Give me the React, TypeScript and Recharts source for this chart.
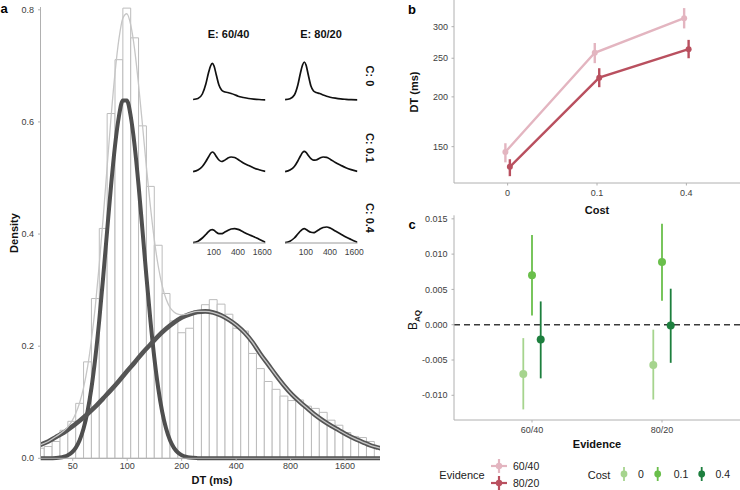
import React from "react";
import {
  ComposedChart,
  LineChart,
  Line,
  Bar,
  Scatter,
  XAxis,
  YAxis,
  ErrorBar,
  ReferenceLine,
} from "recharts";

const FONT = '"Liberation Sans", Arial, Helvetica, sans-serif';
const TICK = "#3d3d3d";
const AXIS = "#b0b0b0";

// ---- panel a: DT histogram on a log axis (x values are ln(ms)) ----
const dtTicks = [50, 100, 200, 400, 800, 1600];

const binLn = [
  3.5, 3.6, 3.7, 3.8, 3.9, 4.0, 4.1, 4.2, 4.3, 4.4, 4.5, 4.6, 4.7, 4.8, 4.9,
  5.0, 5.1, 5.2, 5.3, 5.4, 5.5, 5.6, 5.7, 5.8, 5.9, 6.0, 6.1, 6.2, 6.3, 6.4,
  6.5, 6.6, 6.7, 6.8, 6.9, 7.0, 7.1, 7.2, 7.3, 7.4, 7.5, 7.6, 7.7,
];
const binDensity = [
  0.018, 0.021, 0.03, 0.05, 0.066, 0.098, 0.172, 0.285, 0.41, 0.615, 0.711,
  0.803, 0.75, 0.593, 0.485, 0.38, 0.294, 0.245, 0.224, 0.232, 0.263, 0.274,
  0.283, 0.275, 0.257, 0.232, 0.227, 0.187, 0.16, 0.137, 0.123, 0.111, 0.103,
  0.104, 0.093, 0.089, 0.082, 0.068, 0.059, 0.046, 0.039, 0.037, 0.03,
];

// slow component
const wideLn = [
  3.5, 3.6, 3.7, 3.8, 3.9, 4.0, 4.1, 4.2, 4.3, 4.4, 4.5, 4.6, 4.7, 4.8, 4.9,
  5.0, 5.1, 5.2, 5.3, 5.4, 5.5, 5.6, 5.7, 5.8, 5.9, 6.0, 6.1, 6.2, 6.3, 6.4,
  6.5, 6.6, 6.7, 6.8, 6.9, 7.0, 7.1, 7.2, 7.3, 7.4, 7.5, 7.6, 7.7, 7.8, 7.9,
];
const wideDensity = [
  0.024, 0.03, 0.038, 0.046, 0.056, 0.067, 0.079, 0.092, 0.107, 0.122, 0.138,
  0.155, 0.171, 0.188, 0.203, 0.218, 0.231, 0.242, 0.251, 0.257, 0.261, 0.262,
  0.26, 0.255, 0.247, 0.237, 0.224, 0.207, 0.186, 0.167, 0.148, 0.13, 0.114,
  0.101, 0.089, 0.077, 0.067, 0.058, 0.05, 0.042, 0.035, 0.029, 0.023, 0.019,
  0.015,
];

// fast component
const narrowLn = [
  3.5, 3.6, 3.7, 3.75, 3.8, 3.85, 3.9, 3.95, 4.0, 4.05, 4.1, 4.15, 4.2, 4.25,
  4.3, 4.35, 4.4, 4.45, 4.5, 4.55, 4.6, 4.65, 4.7, 4.75, 4.8, 4.85, 4.9, 4.95,
  5.0, 5.05, 5.1, 5.15, 5.2, 5.25, 5.3, 5.35, 5.4, 5.5, 5.6, 7.9,
];
const narrowDensity = [
  0, 0.0001, 0.0006, 0.0013, 0.0028, 0.0055, 0.0104, 0.0187, 0.0322, 0.053,
  0.0833, 0.1252, 0.1798, 0.2469, 0.3239, 0.4061, 0.4866, 0.5573, 0.6101,
  0.6384, 0.6384, 0.6101, 0.5573, 0.4866, 0.4061, 0.3239, 0.2469, 0.1798,
  0.1252, 0.0833, 0.053, 0.0322, 0.0187, 0.0104, 0.0055, 0.0028, 0.0013,
  0.0003, 0, 0,
];

// overall density
const mixLn = [
  3.5, 3.6, 3.7, 3.8, 3.85, 3.9, 3.95, 4.0, 4.05, 4.1, 4.15, 4.2, 4.25, 4.3,
  4.35, 4.4, 4.45, 4.5, 4.55, 4.6, 4.65, 4.7, 4.75, 4.8, 4.85, 4.9, 4.95, 5.0,
  5.05, 5.1, 5.15, 5.2, 5.25, 5.3, 5.35, 5.4, 5.5, 5.6, 5.7, 5.8, 5.9, 6.0,
  6.1, 6.2, 6.3, 6.4, 6.5, 6.6, 6.7, 6.8, 6.9, 7.0, 7.1, 7.2, 7.3, 7.4, 7.5,
  7.6, 7.7, 7.8, 7.9,
];
const mixDensity = [
  0.024, 0.03, 0.039, 0.049, 0.056, 0.066, 0.08, 0.099, 0.126, 0.162, 0.211,
  0.272, 0.346, 0.43, 0.52, 0.609, 0.687, 0.748, 0.785, 0.793, 0.773, 0.729,
  0.666, 0.594, 0.519, 0.45, 0.39, 0.343, 0.308, 0.284, 0.269, 0.261, 0.257,
  0.256, 0.257, 0.259, 0.262, 0.262, 0.26, 0.255, 0.247, 0.237, 0.224, 0.207,
  0.186, 0.167, 0.148, 0.13, 0.114, 0.101, 0.089, 0.077, 0.067, 0.058, 0.05,
  0.042, 0.035, 0.029, 0.023, 0.019, 0.015,
];

// ---- inset: densities per evidence x cost (relative units) ----
const insetTicks = [100, 400, 1600];
const insetLn = [
  3.42, 3.7, 3.95, 4.15, 4.3, 4.42, 4.52, 4.62, 4.75, 4.9, 5.05, 5.2, 5.4, 5.6,
  5.8, 6.0, 6.3, 6.6, 6.9, 7.2, 7.56,
];
const evidenceLabels = ["60/40", "80/20"];
const costLabels = ["0", "0.1", "0.4"];
const insetC0E60 = [0.5, 1.5, 6, 16, 27, 34, 36.6, 34, 25, 15, 10, 8.3, 7.5, 6.5, 5.3, 3.8, 2.5, 1.5, 0.9, 0.5, 0.2];
const insetC0E80 = [0.3, 1.3, 5, 15, 27, 35, 38, 35, 25, 14, 9, 7.5, 6.5, 5, 3.8, 2.8, 1.8, 1.1, 0.7, 0.4, 0.2];
const insetC1E60 = [0.3, 2, 5.5, 10.5, 15, 18.5, 20, 19, 15.5, 12, 10.5, 11.5, 13.8, 15, 14.5, 12.5, 9, 6.5, 4, 2.3, 0.7];
const insetC1E80 = [0.3, 2, 5.5, 11, 16, 19.5, 20.7, 19.6, 16.5, 13.3, 11.8, 12, 13.8, 15, 14.6, 12.8, 9.5, 6.8, 4.3, 2.4, 0.7];
const insetC4E60 = [0.3, 1.8, 5, 8.5, 11.3, 13, 13.4, 12.7, 10.8, 9.4, 9.3, 10.5, 12.5, 14, 14.4, 13.6, 11, 8.5, 6.3, 3.8, 0.8];
const insetC4E80 = [0.3, 1.8, 5, 9, 12, 13.8, 14.3, 13.6, 12, 10.7, 10.3, 11.5, 13.7, 15.5, 16, 15, 12, 9, 6, 3.5, 0.8];
const insetRows = [
  [insetC0E60, insetC0E80],
  [insetC1E60, insetC1E80],
  [insetC4E60, insetC4E80],
];

// ---- panel b: mean DT by cost ----
const dtTicksB = [150, 200, 250, 300];
const dt6040 = [145.5, 258, 315];
const dt6040Lo = [137, 243, 297];
const dt6040Hi = [153, 273, 334];
const dt8020 = [133.5, 223.5, 263.5];
const dt8020Lo = [126.5, 211.5, 250];
const dt8020Hi = [139.5, 236, 278];
const EVIDENCE_COLORS = ["#e3b5c0", "#b9505f"];

// ---- panel c: B_AQ by evidence and cost ----
const baqTicks = [-0.01, -0.005, 0, 0.005, 0.01, 0.015];
const baqCost0 = [-0.007, -0.0057];
const baqCost0Lo = [-0.012, -0.0106];
const baqCost0Hi = [-0.0019, -0.0007];
const baqCost1 = [0.007, 0.0089];
const baqCost1Lo = [0.0013, 0.0034];
const baqCost1Hi = [0.0127, 0.0143];
const baqCost4 = [-0.0021, -0.0001];
const baqCost4Lo = [-0.0076, -0.0054];
const baqCost4Hi = [0.0033, 0.0051];
const COST_COLORS = ["#a6d48e", "#6abf4b", "#1d7f3e"];

const pairs = (xs: number[], ys: number[]) => xs.map((x, i) => ({ x, y: ys[i] }));

const histData = pairs(binLn, binDensity);
const wideData = pairs(wideLn, wideDensity);
const narrowData = pairs(narrowLn, narrowDensity);
const mixData = pairs(mixLn, mixDensity);

const LN_MIN = 3.502;
const LN_MAX = 7.822;
const PLOT_A_W = 339.5;
// bin width is 0.1 on the ln axis; a hair less than the band so recharts keeps it whole
const binPx = (PLOT_A_W / (LN_MAX - LN_MIN)) * 0.1 - 0.02;

const DODGE_B = 0.025;
const evidenceB = [
  { mean: dt6040, lo: dt6040Lo, hi: dt6040Hi },
  { mean: dt8020, lo: dt8020Lo, hi: dt8020Hi },
].map((s, e) =>
  s.mean.map((m, i) => ({
    x: i + 1 + (e === 0 ? -DODGE_B : DODGE_B),
    y: m,
    err: [m - s.lo[i], s.hi[i] - m],
  }))
);

const DODGE_C = 0.067;
const costC = [
  { mean: baqCost0, lo: baqCost0Lo, hi: baqCost0Hi },
  { mean: baqCost1, lo: baqCost1Lo, hi: baqCost1Hi },
  { mean: baqCost4, lo: baqCost4Lo, hi: baqCost4Hi },
].map((s, c) =>
  s.mean.map((m, i) => ({
    x: i + 1 + (c - 1) * DODGE_C,
    y: m,
    err: [m - s.lo[i], s.hi[i] - m],
  }))
);

const tickStyle = { fontSize: 9, fill: TICK, fontFamily: FONT };

function InsetPanel({ values, left, top, showAxis }: any) {
  const data = insetLn.map((x, i) => ({ x, y: values[i] }));
  return (
    <div style={{ position: "absolute", left, top }}>
      <LineChart
        width={86.5}
        height={showAxis ? 58 : 44}
        data={data}
        margin={{ top: 2, right: 13, bottom: showAxis ? 0 : 2, left: 1 }}
      >
        <XAxis
          dataKey="x"
          type="number"
          domain={[3.415, 7.567]}
          allowDataOverflow
          hide={!showAxis}
          height={16}
          ticks={insetTicks.map(Math.log)}
          tickFormatter={(v: number) => String(Math.round(Math.exp(v)))}
          tick={{ fontSize: 8.5, fill: TICK, fontFamily: FONT }}
          tickLine={false}
          tickSize={4}
          tickMargin={2}
          axisLine={{ stroke: "#9a9a9a" }}
          interval={0}
        />
        <YAxis hide domain={[0, 40]} />
        <Line
          type="monotone"
          dataKey="y"
          stroke="#111"
          strokeWidth={1.7}
          dot={false}
          activeDot={false}
          isAnimationActive={false}
        />
      </LineChart>
    </div>
  );
}

function PanelA() {
  const curve = {
    xAxisId: "curve",
    dataKey: "y",
    type: "monotone" as const,
    dot: false,
    activeDot: false,
    isAnimationActive: false,
  };
  return (
    <div style={{ position: "absolute", left: 0, top: 0 }}>
      <ComposedChart
        width={390}
        height={490}
        data={histData}
        margin={{ top: 7, right: 10, bottom: 0, left: 0 }}
        barCategoryGap={0}
        barGap={0}
      >
        <XAxis
          xAxisId="bins"
          dataKey="x"
          type="number"
          domain={[LN_MIN, LN_MAX]}
          allowDataOverflow
          ticks={dtTicks.map(Math.log)}
          tickFormatter={(v: number) => String(Math.round(Math.exp(v)))}
          interval={0}
          height={31.7}
          tick={tickStyle}
          tickSize={2.5}
          tickMargin={1.5}
          tickLine={{ stroke: AXIS }}
          axisLine={{ stroke: AXIS }}
        />
        <XAxis
          xAxisId="curve"
          dataKey="x"
          type="number"
          domain={[LN_MIN, LN_MAX]}
          allowDataOverflow
          hide
        />
        <YAxis
          type="number"
          domain={[0, 0.805]}
          ticks={[0, 0.2, 0.4, 0.6, 0.8]}
          tickFormatter={(v: number) => v.toFixed(1)}
          width={40.5}
          tick={tickStyle}
          tickSize={2.5}
          tickMargin={4}
          tickLine={{ stroke: AXIS }}
          axisLine={{ stroke: AXIS }}
        />
        <Bar
          xAxisId="bins"
          dataKey="y"
          fill="#ffffff"
          stroke="#bcbcbc"
          strokeWidth={1}
          barSize={binPx}
          isAnimationActive={false}
        />
        <Line {...curve} data={narrowData} stroke="#4f4f4f" strokeWidth={4} />
        <Line {...curve} data={wideData} stroke="#555555" strokeWidth={4.6} />
        <Line {...curve} data={mixData} stroke="#c6c6c6" strokeWidth={1.3} />
      </ComposedChart>
    </div>
  );
}

function PanelB() {
  return (
    <div style={{ position: "absolute", left: 400, top: 0 }}>
      <LineChart width={340} height={215} margin={{ top: 0, right: 0, bottom: 0, left: 0 }}>
        <XAxis
          dataKey="x"
          type="number"
          domain={[0.4, 3.6]}
          ticks={[1, 2, 3]}
          tickFormatter={(v: number) => costLabels[Math.round(v) - 1]}
          interval={0}
          height={32}
          tick={tickStyle}
          tickSize={2.5}
          tickMargin={4}
          tickLine={{ stroke: AXIS }}
          axisLine={{ stroke: AXIS }}
        />
        <YAxis
          type="number"
          scale="log"
          domain={[121.6, 350]}
          allowDataOverflow
          ticks={dtTicksB}
          interval={0}
          width={54}
          tick={tickStyle}
          tickSize={2.5}
          tickMargin={3.5}
          tickLine={{ stroke: AXIS }}
          axisLine={{ stroke: AXIS }}
        />
        {evidenceB.map((data, e) => (
          <Line
            key={evidenceLabels[e]}
            data={data}
            dataKey="y"
            stroke={EVIDENCE_COLORS[e]}
            strokeWidth={2.4}
            dot={{ r: 3, fill: EVIDENCE_COLORS[e], stroke: EVIDENCE_COLORS[e], strokeWidth: 0 }}
            activeDot={false}
            isAnimationActive={false}
          >
            <ErrorBar dataKey="err" direction="y" width={0} stroke={EVIDENCE_COLORS[e]} strokeWidth={2.4} />
          </Line>
        ))}
      </LineChart>
    </div>
  );
}

function PanelC() {
  return (
    <div style={{ position: "absolute", left: 400, top: 205 }}>
      <ComposedChart width={340} height={240} margin={{ top: 10.3, right: 0, bottom: 0, left: 0 }}>
        <XAxis
          dataKey="x"
          type="number"
          domain={[0.4, 2.6]}
          ticks={[1, 2]}
          tickFormatter={(v: number) => evidenceLabels[Math.round(v) - 1]}
          interval={0}
          height={25}
          tick={tickStyle}
          tickSize={2.5}
          tickMargin={4}
          tickLine={{ stroke: AXIS }}
          axisLine={{ stroke: AXIS }}
        />
        <YAxis
          dataKey="y"
          type="number"
          domain={[-0.0135, 0.0155]}
          allowDataOverflow
          ticks={baqTicks}
          interval={0}
          tickFormatter={(v: number) => v.toFixed(3)}
          width={54}
          tick={tickStyle}
          tickSize={2.5}
          tickMargin={4}
          tickLine={{ stroke: AXIS }}
          axisLine={{ stroke: AXIS }}
        />
        <ReferenceLine y={0} stroke="#3a3a3a" strokeWidth={1.4} strokeDasharray="6 4" />
        {costC.map((data, c) => (
          <Scatter
            key={costLabels[c]}
            data={data}
            fill={COST_COLORS[c]}
            isAnimationActive={false}
            shape={(p: any) => <circle cx={p.cx} cy={p.cy} r={4} fill={COST_COLORS[c]} />}
          >
            <ErrorBar dataKey="err" direction="y" width={0} stroke={COST_COLORS[c]} strokeWidth={1.8} />
          </Scatter>
        ))}
      </ComposedChart>
    </div>
  );
}

function Overlay() {
  const title = { fontSize: 11, fontWeight: 700, fill: "#111" } as const;
  const strip = { fontSize: 11, fontWeight: 700, fill: "#111" } as const;
  const legendText = { fontSize: 11, fill: "#222" } as const;
  const costGlyphX = [624, 657.7, 701.7];
  const costTextX = [641, 681, 722.7];
  return (
    <svg
      width={740}
      height={490}
      style={{ position: "absolute", left: 0, top: 0, pointerEvents: "none" }}
      fontFamily={FONT}
    >
      <text x={0.5} y={13} fontSize={13} fontWeight={700}>a</text>
      <text x={408} y={13.5} fontSize={13} fontWeight={700}>b</text>
      <text x={408.5} y={228.5} fontSize={13} fontWeight={700}>c</text>

      <text transform="translate(18,233) rotate(-90)" textAnchor="middle" {...title}>Density</text>
      <text x={212} y={484} textAnchor="middle" {...title}>DT (ms)</text>

      <text x={228.5} y={38} textAnchor="middle" {...strip}>E: {evidenceLabels[0]}</text>
      <text x={321} y={38} textAnchor="middle" {...strip}>E: {evidenceLabels[1]}</text>
      <text transform="translate(366,76) rotate(90)" textAnchor="middle" {...strip}>C: {costLabels[0]}</text>
      <text transform="translate(366,148) rotate(90)" textAnchor="middle" {...strip}>C: {costLabels[1]}</text>
      <text transform="translate(366,218) rotate(90)" textAnchor="middle" {...strip}>C: {costLabels[2]}</text>

      <text transform="translate(418,92) rotate(-90)" textAnchor="middle" {...title}>DT (ms)</text>
      <text x={597} y={214} textAnchor="middle" {...title}>Cost</text>

      <text transform="translate(417,320) rotate(-90)" textAnchor="middle" fontSize={12} fill="#111">
        B<tspan fontSize={8} fontWeight={700} dy={3}>AQ</tspan>
      </text>
      <text x={597} y={448} textAnchor="middle" {...title}>Evidence</text>

      {/* legends */}
      <text x={462} y={479} textAnchor="middle" {...legendText}>Evidence</text>
      {evidenceLabels.map((lab, e) => {
        const y = e === 0 ? 466 : 483;
        return (
          <g key={lab}>
            <line x1={491} x2={507} y1={y} y2={y} stroke={EVIDENCE_COLORS[e]} strokeWidth={2.2} />
            <line x1={499} x2={499} y1={y - 7} y2={y + 7} stroke={EVIDENCE_COLORS[e]} strokeWidth={2.2} />
            <circle cx={499} cy={y} r={3.2} fill={EVIDENCE_COLORS[e]} />
            <text x={513} y={y + 3.8} {...legendText} fontSize={10.5}>{lab}</text>
          </g>
        );
      })}
      <text x={599} y={479} textAnchor="middle" {...legendText}>Cost</text>
      {costLabels.map((lab, c) => (
        <g key={lab}>
          <line x1={costGlyphX[c]} x2={costGlyphX[c]} y1={467} y2={481} stroke={COST_COLORS[c]} strokeWidth={1.8} />
          <circle cx={costGlyphX[c]} cy={474} r={3.4} fill={COST_COLORS[c]} />
          <text x={costTextX[c]} y={478} textAnchor="middle" {...legendText} fontSize={10.5}>{lab}</text>
        </g>
      ))}
    </svg>
  );
}

export default function App() {
  const colLeft = [191.5, 283.5];
  const rowTop = [57.5, 129.7, 200.7];
  return (
    <div
      style={{
        position: "absolute",
        left: 0,
        top: 0,
        width: 740,
        height: 490,
        background: "#fff",
        fontFamily: FONT,
        overflow: "hidden",
      }}
    >
      <PanelA />
      {insetRows.map((row, r) =>
        row.map((values, c) => (
          <InsetPanel
            key={`${r}-${c}`}
            values={values}
            left={colLeft[c]}
            top={rowTop[r]}
            showAxis={r === 2}
          />
        ))
      )}
      <PanelB />
      <PanelC />
      <Overlay />
    </div>
  );
}
